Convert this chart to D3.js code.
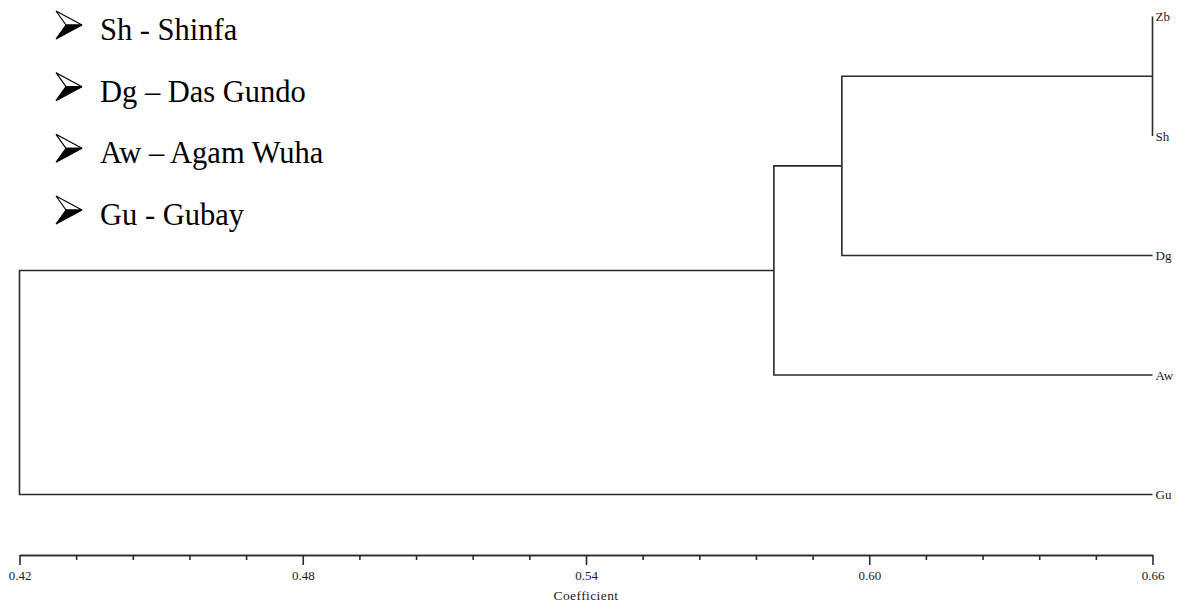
<!DOCTYPE html>
<html>
<head>
<meta charset="utf-8">
<script src="https://cdn.jsdelivr.net/npm/d3@7/dist/d3.min.js"></script>
<style>
  html, body { margin: 0; padding: 0; background: #fff; }
  svg { display: block; }
</style>
</head>
<body>
<svg id="chart" width="1184" height="605"></svg>
<script>
// ---- data ----
const leaves = ["Zb", "Sh", "Dg", "Aw", "Gu"];
// agglomerative merges: clusterA + clusterB joined at coefficient
const mergeA = ["Zb", "C1", "C2", "C3"];
const mergeB = ["Sh", "Dg", "Aw", "Gu"];
const mergeName = ["C1", "C2", "C3", "C4"];
const mergeCoef = [0.66, 0.5942, 0.5798, 0.42];
const majorTicks = [0.42, 0.48, 0.54, 0.60, 0.66];
const legendCodes = ["Sh", "Dg", "Aw", "Gu"];
const legendSeps = ["-", "–", "–", "-"];
const legendNames = ["Shinfa", "Das Gundo", "Agam Wuha", "Gubay"];
const axisTitle = "Coefficient";

// ---- layout ----
const svg = d3.select("#chart");
const x = d3.scaleLinear().domain([0.42, 0.66]).range([19.5, 1152.5]);
const y = d3.scalePoint().domain(leaves).range([16.5, 494.5]);
const lineColor = "#2a2a2a";
const serif = "Liberation Serif, Times New Roman, serif";

// node positions
const pos = {};
leaves.forEach(l => { pos[l] = { x: x(0.66), y: y(l) }; });
mergeName.forEach((m, i) => {
  const a = pos[mergeA[i]], b = pos[mergeB[i]];
  pos[m] = { x: x(mergeCoef[i]), y: (a.y + b.y) / 2 };
});

const g = svg.append("g");
mergeName.forEach((m, i) => {
  const p = pos[m], a = pos[mergeA[i]], b = pos[mergeB[i]];
  const path = d3.path();
  path.moveTo(a.x, a.y); path.lineTo(p.x, a.y); path.lineTo(p.x, b.y); path.lineTo(b.x, b.y);
  g.append("path").attr("d", path.toString())
    .attr("fill", "none").attr("stroke", lineColor).attr("stroke-width", 1.6);
});

// leaf labels
g.selectAll("text.leaf").data(leaves).enter().append("text")
  .attr("class", "leaf")
  .attr("x", x(0.66) + 3)
  .attr("y", d => y(d) + 4.5)
  .attr("font-family", serif)
  .attr("font-size", 13)
  .attr("fill", "#1a1a1a")
  .text(d => d);

// axis
const axisY = 555;
const minorTicks = [];
for (let i = 0; i < majorTicks.length - 1; i++) {
  const step = (majorTicks[i + 1] - majorTicks[i]) / 5;
  for (let k = 1; k < 5; k++) minorTicks.push(majorTicks[i] + k * step);
}
const axMinor = svg.append("g").attr("transform", `translate(0,${axisY})`)
  .call(d3.axisBottom(x).tickValues(minorTicks).tickSize(5).tickSizeOuter(0).tickFormat(""));
const axMajor = svg.append("g").attr("transform", `translate(0,${axisY})`)
  .call(d3.axisBottom(x).tickValues(majorTicks).tickSize(10).tickSizeOuter(0).tickPadding(6).tickFormat(d3.format(".2f")));
[axMinor, axMajor].forEach(ax => {
  ax.selectAll("path, line").attr("stroke", lineColor).attr("stroke-width", 1.6);
  ax.selectAll("text").attr("font-family", serif)
    .attr("font-size", 13).attr("fill", "#1a1a1a");
});
svg.append("text")
  .attr("x", x(0.54)).attr("y", 600)
  .attr("text-anchor", "middle")
  .attr("font-family", serif)
  .attr("font-size", 13.5).attr("letter-spacing", 0.4).attr("fill", "#1a1a1a")
  .text(axisTitle);

// legend
const legY = d3.scalePoint().domain(legendCodes).range([40, 225]);
const leg = svg.append("g");
legendCodes.forEach((c, i) => {
  const by = legY(c);
  const cy = by - 15;
  const ax0 = 56, tip = 82, notch = 66;
  leg.append("path")
    .attr("d", `M${ax0},${cy - 14}L${tip},${cy}L${notch},${cy}Z`)
    .attr("fill", "#fff").attr("stroke", "#000").attr("stroke-width", 1.2).attr("stroke-linejoin", "miter");
  leg.append("path")
    .attr("d", `M${notch},${cy}L${tip},${cy}L${ax0},${cy + 14}Z`)
    .attr("fill", "#000").attr("stroke", "#000").attr("stroke-width", 1.2);
  leg.append("text")
    .attr("x", 100).attr("y", by)
    .attr("font-family", serif)
    .attr("font-size", 30.5).attr("fill", "#000")
    .text(`${c} ${legendSeps[i]} ${legendNames[i]}`);
});
</script>
</body>
</html>
